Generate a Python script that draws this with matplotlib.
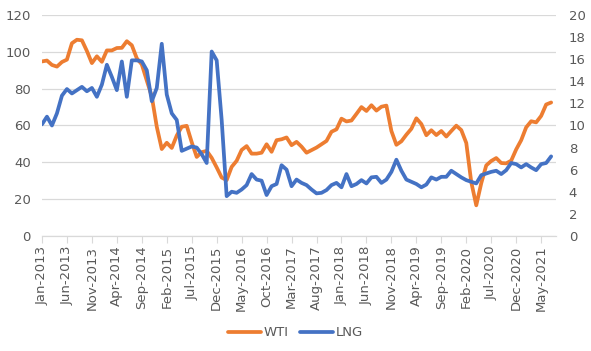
import matplotlib
matplotlib.use("Agg")
import matplotlib.pyplot as plt
import numpy as np

# monthly values, Jan-2013 .. Jul-2021
wti = [94.8, 95.3, 92.9, 92.0, 94.5, 95.8, 104.7, 106.6, 106.3, 100.5, 93.9, 97.6,
       94.6, 100.8, 100.8, 102.1, 102.2, 105.8, 103.6, 96.5, 93.2, 84.4, 75.8, 59.3,
       47.2, 50.6, 47.8, 54.5, 59.3, 59.8, 50.9, 42.9, 45.5, 46.2, 42.4, 37.2,
       31.7, 30.3, 37.5, 40.8, 46.7, 48.8, 44.7, 44.7, 45.2, 49.8, 45.7, 52.0,
       52.5, 53.5, 49.3, 51.1, 48.5, 45.2, 46.6, 48.0, 49.8, 51.6, 56.6, 57.9,
       63.7, 62.2, 62.7, 66.3, 70.0, 67.9, 71.0, 68.1, 70.2, 70.8, 57.0, 49.5,
       51.4, 55.0, 58.2, 63.9, 60.8, 54.7, 57.4, 54.8, 57.0, 54.0, 57.0, 59.9,
       57.5, 50.5, 29.2, 16.6, 28.6, 38.3, 40.7, 42.3, 39.6, 39.4, 40.9, 47.0,
       52.0, 59.0, 62.3, 61.7, 65.2, 71.4, 72.5]

lng = [10.1, 10.8, 10.0, 11.1, 12.7, 13.3, 12.9, 13.2, 13.5, 13.1, 13.4, 12.6,
       13.7, 15.5, 14.4, 13.2, 15.8, 12.6, 15.9, 15.9, 15.8, 15.0, 12.2, 13.4,
       17.4, 12.8, 11.1, 10.5, 7.7, 7.9, 8.1, 8.0, 7.4, 6.6, 16.7, 15.9,
       10.5, 3.6, 4.0, 3.9, 4.2, 4.6, 5.6, 5.1, 5.0, 3.7, 4.5, 4.7,
       6.4, 6.0, 4.5, 5.1, 4.8, 4.6, 4.2, 3.85, 3.9, 4.15, 4.6, 4.8,
       4.4, 5.6, 4.5, 4.7, 5.05, 4.75, 5.3, 5.35, 4.8, 5.1, 5.8, 6.9,
       5.9, 5.1, 4.9, 4.7, 4.4, 4.65, 5.3, 5.1, 5.35, 5.35, 5.9, 5.6,
       5.3, 5.05, 4.9, 4.75, 5.5, 5.65, 5.8, 5.9, 5.6, 5.95, 6.6, 6.5,
       6.2, 6.5, 6.2, 5.95, 6.5, 6.6, 7.2]

months = ['Jan', 'Feb', 'Mar', 'Apr', 'May', 'Jun',
          'Jul', 'Aug', 'Sep', 'Oct', 'Nov', 'Dec']
start_year = 2013
tick_step = 5

x = np.arange(len(wti))
tick_pos = np.arange(0, len(wti), tick_step)
tick_labels = [f"{months[i % 12]}-{start_year + i // 12}" for i in tick_pos]

grey_txt = '#595959'
grid_col = '#d9d9d9'

fig = plt.figure(figsize=(5.91, 3.51), dpi=100)
ax = fig.add_axes([0.071, 0.328, 0.870, 0.629])
ax2 = ax.twinx()

l1, = ax.plot(x, wti, color='#ED7D31', lw=2.7, solid_joinstyle='round',
              solid_capstyle='round', label='WTI')
l2, = ax2.plot(x, lng, color='#4472C4', lw=2.7, solid_joinstyle='round',
               solid_capstyle='round', label='LNG')

ax.set_xlim(0, 103)
ax.set_ylim(0, 120)
ax2.set_ylim(0, 20)
ax.set_yticks(np.arange(0, 121, 20))
ax2.set_yticks(np.arange(0, 21, 2))

ax.set_xticks(tick_pos)
ax.set_xticklabels(tick_labels, rotation=90)

ax.grid(axis='y', color=grid_col, lw=0.9)
ax.set_axisbelow(True)

for a in (ax, ax2):
    for s in ('top', 'left', 'right'):
        a.spines[s].set_visible(False)
    a.spines['bottom'].set_color(grid_col)
    a.tick_params(colors=grey_txt, labelsize=9.5)

ax.tick_params(axis='y', length=0, pad=8)
ax2.tick_params(axis='y', length=0, pad=9)
ax.tick_params(axis='x', length=5, color=grid_col, pad=2)

fig.legend(handles=[l1, l2], loc='lower center', bbox_to_anchor=(0.50, 0.0),
           ncol=2, frameon=False, fontsize=9.5, labelcolor=grey_txt,
           handlelength=2.5, handletextpad=0.2, columnspacing=0.9)

fig.savefig('out.png', dpi=100)
